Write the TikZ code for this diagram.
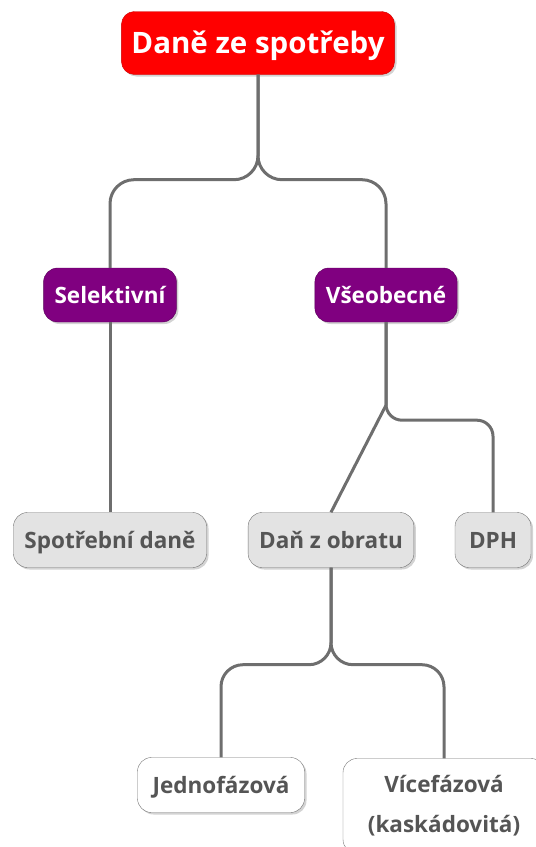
\documentclass[tikz,border=0pt]{standalone}
\usepackage{fontspec}
\setmainfont{Open Sans}
\usetikzlibrary{positioning, shadows}
\definecolor{rootred}{HTML}{FF0000}
\definecolor{catpurple}{HTML}{800080}
\definecolor{linegray}{HTML}{6E6E6E}
\definecolor{boxgray}{HTML}{E3E3E3}
\definecolor{textgray}{HTML}{555555}
\tikzset{
	rootbox/.style={
		rectangle,
		draw=red!80!black,
		fill=rootred,
		text=white,
		font=\fontsize{29.5}{33}\selectfont\bfseries,
		text height=20pt,
		text depth=0pt,
		inner xsep=10pt,
		minimum height=63pt,
		minimum width=272pt,
		rounded corners=13pt,
		drop shadow={shadow xshift=2pt, shadow yshift=-2pt, opacity=0.35},
	},
	catbox/.style={
		rectangle,
		draw=catpurple!70!black,
		fill=catpurple,
		text=white,
		font=\fontsize{22.5}{26}\selectfont\bfseries,
		text height=17pt,
		text depth=0pt,
		inner xsep=11pt,
		minimum height=54pt,
		rounded corners=14pt,
		drop shadow={shadow xshift=2pt, shadow yshift=-2pt, opacity=0.35},
	},
	taxbox/.style={
		rectangle,
		draw=black!55,
		fill=boxgray,
		text=textgray,
		font=\fontsize{22.5}{26}\selectfont\bfseries,
		text height=17pt,
		text depth=0pt,
		inner xsep=11pt,
		minimum height=55pt,
		rounded corners=14pt,
		drop shadow={shadow xshift=2pt, shadow yshift=-2pt, opacity=0.35},
	},
	subbox/.style={
		taxbox,
		fill=white,
	},
	link/.style={
		draw=linegray,
		line width=3pt,
		rounded corners=24pt,
	},
}
\begin{document}
\begin{tikzpicture}[x=1pt, y=1pt, node distance=245pt]
		\useasboundingbox (0,0) rectangle (536,-847);
		% Place nodes
		\node [rootbox] (root) at (258,-43) {Daně ze spotřeby};
		\node [catbox, below of = root, xshift=-148pt, yshift=-7pt] (sel) {Selektivní};
		\node [catbox, below of = root, xshift=128pt, yshift=-7pt] (vse) {Všeobecné};
		
		\node [taxbox, below of = sel] (spo) {Spotřební daně};
		\node [taxbox, below of = vse, xshift=-55pt] (dan) {Daň z obratu};
		\node [taxbox, below of = vse, xshift=107pt, minimum width=76pt] (dph) {DPH};
		
		\node [subbox, below of = dan, xshift=-110pt, minimum width=167pt] (jed) {Jednofázová};
		\node [subbox, below of = dan, xshift=113pt, yshift=-21pt, align=center,
			text height=, text depth=, minimum height=95pt, minimum width=202pt,
			font=\fontsize{22.5}{40}\selectfont\bfseries] (vic) {Vícefázová\\(kaskádovitá)};
		
		% Connectors
		\draw [link] (root.south) -- ++(0,-105) -| (sel.north);
		\draw [link] (root.south) -- ++(0,-105) -| (vse.north);
		
		\draw [link] (sel) -- (spo);
		
		\draw [link, sharp corners] (vse.south) -- ++(0,-83) coordinate (fork) -- (dan.north);
		\draw [link, rounded corners=16pt] (vse.south) -- ++(0,-98) -| (dph.north);
		
		\draw [link, rounded corners=22pt] (dan.south) -- ++(0,-97) -| (jed.north);
		\draw [link, rounded corners=22pt] (dan.south) -- ++(0,-97) -| (vic.north);

	\end{tikzpicture}
\end{document}
